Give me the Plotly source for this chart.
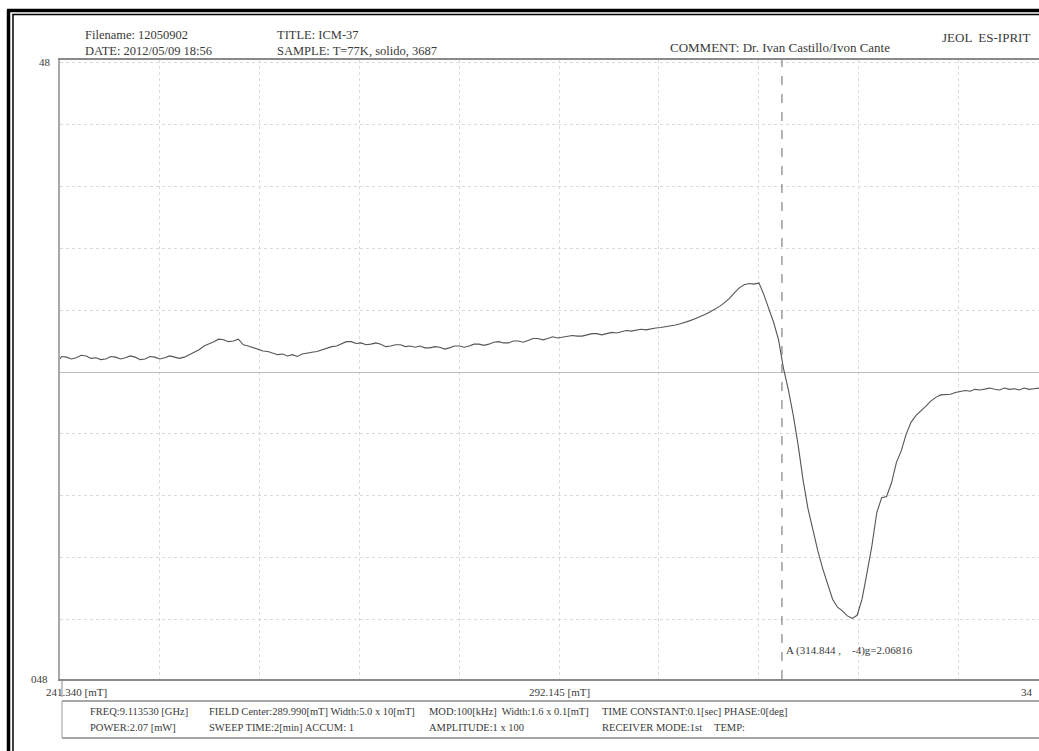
import plotly.graph_objects as go

# ---------------- data ----------------
field_mT = [241.34, 241.5, 242, 242.5, 243, 243.5, 244, 244.5, 245, 245.5, 246, 246.5, 247, 247.5,
            248, 248.5, 249, 249.5, 250, 250.5, 251, 251.5, 252, 252.5, 253, 253.5, 254, 254.5,
            255, 255.5, 256, 256.5, 257, 257.5, 258, 258.5, 259, 259.5, 260, 260.5, 261, 261.5,
            262, 262.5, 263, 263.5, 264, 264.5, 265, 265.5, 266, 266.5, 267, 267.5, 268, 268.5,
            269, 269.5, 270, 270.5, 271, 271.5, 272, 272.5, 273, 273.5, 274, 274.5, 275, 275.5,
            276, 276.5, 277, 277.5, 278, 278.5, 279, 279.5, 280, 280.5, 281, 281.5, 282, 282.5,
            283, 283.5, 284, 284.5, 285, 285.5, 286, 286.5, 287, 287.5, 288, 288.5, 289, 289.5,
            290, 290.5, 291, 291.5, 292, 292.5, 293, 293.5, 294, 294.5, 295, 295.5, 296, 296.5,
            297, 297.5, 298, 298.5, 299, 299.5, 300, 300.5, 301, 301.5, 302, 302.5, 303, 303.5,
            304, 304.5, 305, 305.5, 306, 306.5, 307, 307.5, 308, 308.5, 309, 309.5, 310, 310.5,
            311, 311.5, 312, 312.5, 313, 313.5, 314, 314.5, 315, 315.5, 316, 316.5, 317, 317.5,
            318, 318.5, 319, 319.5, 320, 320.5, 321, 321.5, 322, 322.5, 323, 323.5, 324, 324.5,
            325, 325.5, 326, 326.5, 327, 327.5, 328, 328.5, 329, 329.5, 330, 330.5, 331, 331.5,
            332, 332.5, 333, 333.5, 334, 334.5, 335, 335.5, 336, 336.5, 337, 337.5, 338, 338.5,
            339, 339.5, 340, 340.5, 341, 341.5, 342, 342.5, 342.95]

intensity = [21, 25, 24, 21, 23, 27, 26, 22, 23, 20, 21, 25, 24, 21,
             23, 26, 24, 20, 21, 25, 24, 21, 23, 26, 24, 22, 24, 28,
             32, 36, 42, 45, 49, 53, 52, 49, 50, 53, 44, 42, 39, 36,
             34, 33, 31, 28, 29, 26, 28, 25, 29, 31, 32, 33, 36, 39,
             41, 42, 45, 49, 49, 46, 47, 44, 45, 47, 45, 41, 42, 44,
             44, 41, 42, 40, 42, 39, 39, 41, 40, 37, 39, 42, 42, 40,
             42, 45, 45, 43, 45, 48, 49, 47, 47, 50, 50, 48, 51, 54,
             54, 52, 54, 57, 55, 56, 57, 59, 58, 58, 60, 62, 62, 60,
             62, 64, 63, 65, 67, 66, 67, 69, 68, 70, 71, 72, 73, 75,
             76, 78, 80, 83, 86, 89, 93, 97, 101, 106, 112, 119, 128, 136,
             141, 143, 142, 144, 125, 101, 80, 52, 6, -29, -70, -119, -175, -221,
             -256, -289, -318, -344, -367, -380, -386, -394, -398, -393, -367, -325, -281, -227,
             -203, -201, -179, -146, -127, -100, -81, -70, -63, -55, -47, -41, -37, -36,
             -36, -33, -32, -30, -31, -28, -29, -27, -26, -28, -29, -26, -28, -27,
             -29, -26, -28, -27, -26, -28, -28, -27, -28]

cursor_field = 314.844
header_left = ["Filename: 12050902", "DATE: 2012/05/09 18:56"]
header_mid = ["TITLE: ICM-37", "SAMPLE: T=77K, solido, 3687"]
comment = "COMMENT: Dr. Ivan Castillo/Ivon Cante"
instrument = "JEOL  ES-IPRIT"
y_top_label, y_bottom_label = "48", "048"
x_labels = ["241.340 [mT]", "292.145 [mT]", "34"]
footer_row1 = ["FREQ:9.113530 [GHz]", "FIELD Center:289.990[mT] Width:5.0 x 10[mT]",
               "MOD:100[kHz]  Width:1.6 x 0.1[mT]", "TIME CONSTANT:0.1[sec] PHASE:0[deg]"]
footer_row2 = ["POWER:2.07 [mW]", "SWEEP TIME:2[min] ACCUM: 1", "AMPLITUDE:1 x 100",
               "RECEIVER MODE:1st", "TEMP:"]
cursor_text = "A (314.844 ,    -4)g=2.06816"

# ---------------- layout geometry ----------------
W, H = 1039, 751
L, T, B = 60, 60, 679
X0, XFULL = 241.340, 342.950
x_max_visible = X0 + (W - L) / 998 * (XFULL - X0)


def px(x):
    return (x - L) / (W - L)


def py(y):
    return (B - y) / (B - T)


SERIF = "Liberation Serif, Times New Roman, serif"
TXT = "#3a3a3a"

fig = go.Figure()
fig.add_trace(go.Scatter(x=field_mT, y=intensity, mode="lines",
                         line=dict(color="#555555", width=1.1), hoverinfo="skip",
                         showlegend=False))

ann = []


def text(x, y, s, size, anchor="left"):
    ann.append(dict(x=px(x), y=py(y), xref="paper", yref="paper", text=s, showarrow=False,
                    xanchor=anchor, yanchor="middle", align="left",
                    font=dict(family=SERIF, size=size, color=TXT)))


text(83, 42.5, "<br>".join(header_left), 12.5)
text(275, 42.5, "<br>".join(header_mid), 12.5)
text(668, 48, comment, 13)
text(1032, 38, instrument, 13, "right")
text(53, 62, y_top_label, 11, "right")
text(50, 679, y_bottom_label, 11, "right")
text(44, 692, x_labels[0], 11)
text(527, 692, x_labels[1], 11)
text(1035, 692, x_labels[2], 11, "right")
for xs, s in zip([88, 207, 427, 600], footer_row1):
    text(xs, 711, s, 10.5)
for xs, s in zip([88, 207, 427, 600, 712], footer_row2):
    text(xs, 727, s, 10.5)
text(784, 650, cursor_text, 11)

shapes = []
# cursor line
shapes.append(dict(type="line", xref="x", yref="paper", x0=cursor_field, x1=cursor_field,
                   y0=0, y1=1, line=dict(color="#6a6a6a", width=1, dash="dash")))
# small tick under the left axis
shapes.append(dict(type="line", xref="paper", yref="paper", x0=px(62), x1=px(62),
                   y0=py(681), y1=py(697), line=dict(color="#888888", width=1)))
# footer box
shapes.append(dict(type="line", xref="paper", yref="paper", x0=px(62), x1=px(1045),
                   y0=py(701), y1=py(701), line=dict(color="#8a8a8a", width=1.5)))
shapes.append(dict(type="line", xref="paper", yref="paper", x0=px(62), x1=px(1045),
                   y0=py(738), y1=py(738), line=dict(color="#8a8a8a", width=1.5)))
shapes.append(dict(type="line", xref="paper", yref="paper", x0=px(62), x1=px(62),
                   y0=py(701), y1=py(738), line=dict(color="#9a9a9a", width=1)))
# page frame (double line, left and top)
shapes.append(dict(type="line", xref="paper", yref="paper", x0=px(8.5), x1=px(8.5),
                   y0=py(10), y1=py(760), line=dict(color="black", width=3.5)))
shapes.append(dict(type="line", xref="paper", yref="paper", x0=px(13), x1=px(13),
                   y0=py(14), y1=py(760), line=dict(color="black", width=1.5)))
shapes.append(dict(type="line", xref="paper", yref="paper", x0=px(7), x1=px(1045),
                   y0=py(10.5), y1=py(10.5), line=dict(color="black", width=3.5)))
shapes.append(dict(type="line", xref="paper", yref="paper", x0=px(12.5), x1=px(1045),
                   y0=py(14.5), y1=py(14.5), line=dict(color="black", width=1.5)))

y_lo = -(B - 372) * 100 / 61.9
y_hi = (372 - T) * 100 / 61.9

fig.update_layout(
    width=W, height=H,
    margin=dict(l=L, r=0, t=T, b=H - B, pad=0),
    paper_bgcolor="white", plot_bgcolor="white",
    annotations=ann, shapes=shapes,
    xaxis=dict(range=[X0, x_max_visible], tick0=X0, dtick=(XFULL - X0) / 10,
               showgrid=True, gridcolor="#dadada", griddash="dot", gridwidth=1,
               showticklabels=False, ticks="", zeroline=False,
               showline=True, linecolor="#8a8a8a", linewidth=1.5, mirror=True),
    yaxis=dict(range=[y_lo, y_hi], tick0=0, dtick=100,
               showgrid=True, gridcolor="#dadada", griddash="dot", gridwidth=1,
               showticklabels=False, ticks="",
               zeroline=True, zerolinecolor="#bdbdbd", zerolinewidth=1,
               showline=True, linecolor="#a8a8a8", linewidth=1.5, mirror=False),
)

fig.write_html("out.html", config={"displayModeBar": False},
               post_script="document.body.style.margin='0';"
                           "document.body.style.padding='0';"
                           "document.body.style.overflow='hidden';")
